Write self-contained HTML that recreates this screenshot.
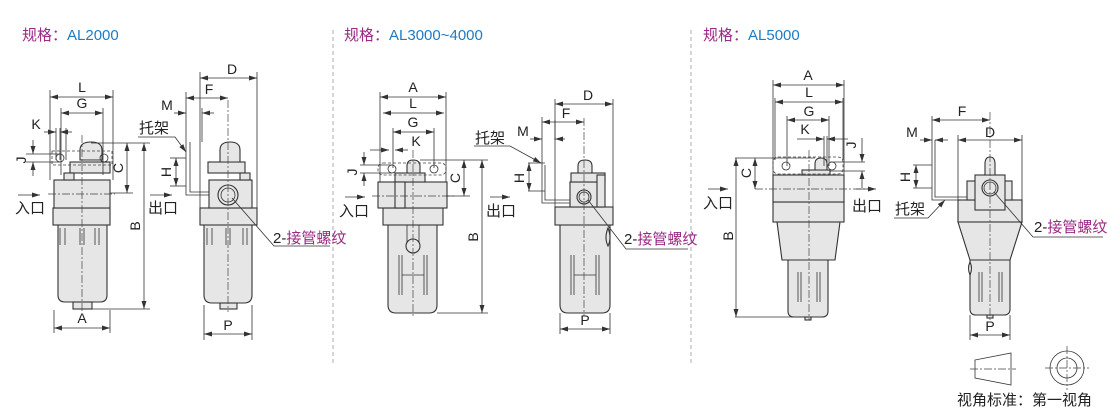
<!DOCTYPE html>
<html><head><meta charset="utf-8"><style>
html,body{margin:0;padding:0;background:#fff;width:1110px;height:410px;overflow:hidden}
svg{display:block}
text{font-family:"Liberation Sans","Noto Sans CJK SC",sans-serif;fill:#222}
.t{font-size:15px}
.d{font-size:14px}
.p{fill:#e6e6e6;stroke:#333;stroke-width:1.1}
.l{stroke:#333;stroke-width:0.8;fill:none}
.c{stroke:#444;stroke-width:0.7;stroke-dasharray:8 2 2 2;fill:none}
.h{stroke:#444;stroke-width:0.8;stroke-dasharray:3 2;fill:none}
.a{stroke:#333;stroke-width:0.8;fill:none;marker-start:url(#ms);marker-end:url(#me)}
.sep{stroke:#bbb;stroke-width:1.2;stroke-dasharray:4 3}
</style></head><body>
<svg width="1110" height="410" viewBox="0 0 1110 410" xmlns="http://www.w3.org/2000/svg">
<defs>
<marker id="me" markerWidth="8" markerHeight="6" refX="8" refY="3" orient="auto" markerUnits="userSpaceOnUse"><path d="M0,0.5 L8,3 L0,5.5z" fill="#333"/></marker>
<marker id="ms" markerWidth="8" markerHeight="6" refX="0" refY="3" orient="auto" markerUnits="userSpaceOnUse"><path d="M8,0.5 L0,3 L8,5.5z" fill="#333"/></marker>
</defs>
<line class="sep" x1="333" y1="30" x2="333" y2="365"/>
<line class="sep" x1="691" y1="30" x2="691" y2="365"/>
<text x="22" y="40" class="t"><tspan style="fill:#9b2a85">规格：</tspan><tspan style="fill:#1e7bc4">AL2000</tspan></text>
<text x="344" y="40" class="t"><tspan style="fill:#9b2a85">规格：</tspan><tspan style="fill:#1e7bc4">AL3000~4000</tspan></text>
<text x="703" y="40" class="t"><tspan style="fill:#9b2a85">规格：</tspan><tspan style="fill:#1e7bc4">AL5000</tspan></text>

<!-- ===== AL2000 front ===== -->
<path class="p" d="M58,225 H107 V295 Q107,302 100,302 H65 Q58,302 58,295Z"/>
<rect class="p" x="73" y="302" width="19" height="7"/>
<rect class="p" x="53" y="208" width="57" height="17"/>
<rect class="p" x="54" y="180" width="56" height="28"/>
<rect class="p" x="70" y="162" width="40" height="11"/>
<path class="p" d="M80,160 V150 Q80,142 91,142 Q102,142 102,150 V160Z"/>
<rect class="p" x="64" y="173" width="10" height="7"/>
<g class="l"><line x1="60" y1="228" x2="60" y2="245"/><line x1="65" y1="228" x2="65" y2="245"/><line x1="80" y1="228" x2="80" y2="245"/><line x1="84" y1="228" x2="84" y2="245"/><line x1="95" y1="228" x2="95" y2="245"/><line x1="99" y1="228" x2="99" y2="245"/></g>
<rect class="h" x="52" y="151" width="60" height="14"/>
<circle cx="60" cy="158" r="4" class="l"/><circle cx="104" cy="158" r="4" class="l"/>
<line class="c" x1="82" y1="135" x2="82" y2="312"/>
<line class="c" x1="48" y1="194" x2="115" y2="194"/>
<g class="l"><line x1="50" y1="90" x2="50" y2="180"/><line x1="113" y1="90" x2="113" y2="180"/><line x1="61" y1="108" x2="61" y2="175"/><line x1="103" y1="108" x2="103" y2="175"/><line x1="54" y1="310" x2="54" y2="333"/><line x1="110" y1="310" x2="110" y2="333"/><line x1="91" y1="143" x2="150" y2="143"/><line x1="92" y1="309" x2="150" y2="309"/><line x1="110" y1="193" x2="133" y2="193"/><line x1="26" y1="154" x2="60" y2="154"/><line x1="26" y1="162" x2="60" y2="162"/><line x1="56" y1="128" x2="56" y2="160"/><line x1="60" y1="128" x2="60" y2="160"/><line x1="66" y1="128" x2="66" y2="160"/></g>
<line class="a" x1="50" y1="97" x2="113" y2="97"/><text x="82" y="92" class="d" text-anchor="middle">L</text>
<line class="a" x1="61" y1="113" x2="103" y2="113"/><text x="82" y="108" class="d" text-anchor="middle">G</text>
<line class="l" x1="44" y1="132" x2="56" y2="132" style="marker-end:url(#me)"/><line class="l" x1="72" y1="132" x2="60" y2="132" style="marker-end:url(#me)"/><text x="36" y="129" class="d" text-anchor="middle">K</text>
<line class="l" x1="33" y1="140" x2="33" y2="154" style="marker-end:url(#me)"/><line class="l" x1="33" y1="176" x2="33" y2="162" style="marker-end:url(#me)"/><text x="24" y="158" class="d" text-anchor="middle" transform="rotate(-90 26 158)">J</text>
<line class="a" x1="127" y1="143" x2="127" y2="193"/><text x="123" y="168" class="d" text-anchor="middle" transform="rotate(-90 123 168)">C</text>
<line class="a" x1="144" y1="143" x2="144" y2="309"/><text x="140" y="226" class="d" text-anchor="middle" transform="rotate(-90 140 226)">B</text>
<line class="a" x1="54" y1="328" x2="110" y2="328"/><text x="82" y="323" class="d" text-anchor="middle">A</text>
<text x="15" y="213" class="t">入口</text><line class="l" x1="18" y1="195" x2="40" y2="195" style="marker-end:url(#me)"/>
<text x="148" y="213" class="t">出口</text><line class="l" x1="150" y1="195" x2="172" y2="195" style="marker-end:url(#me)"/>

<!-- AL2000 side -->
<path class="p" d="M204,225 H252 V295 Q252,303 244,303 H212 Q204,303 204,295Z"/>
<rect class="p" x="220" y="303" width="17" height="6"/>
<rect class="p" x="200" y="208" width="57" height="17"/>
<rect class="p" x="209" y="180" width="43" height="28"/>
<rect class="p" x="208" y="162" width="37" height="11"/>
<rect class="p" x="240" y="173" width="10" height="7"/>
<path class="p" d="M220,162 V150 Q220,142 230,142 Q240,142 240,150 V162Z"/>
<circle cx="228" cy="195" r="10" class="p"/><circle cx="228" cy="195" r="7" class="l"/>
<g class="l"><line x1="207" y1="228" x2="207" y2="245"/><line x1="212" y1="228" x2="212" y2="245"/><line x1="226" y1="228" x2="226" y2="245"/><line x1="230" y1="228" x2="230" y2="245"/><line x1="243" y1="228" x2="243" y2="245"/><line x1="247" y1="228" x2="247" y2="245"/></g>
<path class="l" d="M186,142 V195 H209"/><path class="l" d="M190,142 V192 H209"/>
<line class="c" x1="228" y1="100" x2="228" y2="312"/>
<g class="l"><line x1="200" y1="72" x2="200" y2="208"/><line x1="257" y1="72" x2="257" y2="208"/><line x1="186" y1="92" x2="186" y2="142"/><line x1="202" y1="108" x2="202" y2="142"/><line x1="204" y1="305" x2="204" y2="340"/><line x1="252" y1="305" x2="252" y2="340"/><line x1="170" y1="158" x2="186" y2="158"/><line x1="170" y1="186" x2="186" y2="186"/></g>
<line class="a" x1="200" y1="78" x2="257" y2="78"/><text x="232" y="74" class="d" text-anchor="middle">D</text>
<line class="a" x1="186" y1="98" x2="228" y2="98"/><text x="209" y="94" class="d" text-anchor="middle">F</text>
<line class="l" x1="174" y1="113" x2="186" y2="113" style="marker-end:url(#me)"/><line class="l" x1="214" y1="113" x2="202" y2="113" style="marker-end:url(#me)"/><text x="167" y="110" class="d" text-anchor="middle">M</text>
<line class="a" x1="176" y1="158" x2="176" y2="186"/><text x="171" y="172" class="d" text-anchor="middle" transform="rotate(-90 171 172)">H</text>
<text x="139" y="133" class="t">托架</text><path class="l" d="M138,137 H175 L186,152" style="marker-end:url(#me)"/>
<line class="a" x1="204" y1="334" x2="252" y2="334"/><text x="228" y="330" class="d" text-anchor="middle">P</text>
<path class="l" d="M232,198 L274,246 H330"/>
<text x="273" y="243" class="t">2-<tspan style="fill:#9b2a85">接管螺纹</tspan></text>

<!-- ===== AL3000 front ===== -->
<path class="p" d="M388,225 H437 V305 Q437,313 429,313 H396 Q388,313 388,305Z"/>
<rect class="p" x="383" y="208" width="60" height="17"/>
<rect class="p" x="378" y="182" width="69" height="26"/>
<rect class="p" x="395" y="173" width="30" height="9"/>
<path class="p" d="M407,173 V166 Q407,160 413,160 Q420,160 420,166 V173Z"/>
<rect class="p" x="395" y="182" width="10" height="26"/>
<rect class="l" x="407" y="225" width="12" height="18"/><circle cx="413" cy="246" r="7" class="p"/>
<g class="l"><line x1="399" y1="255" x2="399" y2="295"/><line x1="402" y1="255" x2="402" y2="295"/><line x1="424" y1="255" x2="424" y2="295"/><line x1="427" y1="255" x2="427" y2="295"/><line x1="402" y1="275" x2="424" y2="275"/></g>
<rect class="h" x="378" y="163" width="68" height="12" rx="5"/>
<circle cx="392" cy="169" r="4" class="l"/><circle cx="434" cy="169" r="4" class="l"/>
<line class="c" x1="413" y1="150" x2="413" y2="316"/>
<line class="c" x1="372" y1="196" x2="455" y2="196"/>
<g class="l"><line x1="380" y1="92" x2="380" y2="182"/><line x1="446" y1="92" x2="446" y2="182"/><line x1="393" y1="128" x2="393" y2="168"/><line x1="434" y1="128" x2="434" y2="168"/><line x1="420" y1="160" x2="488" y2="160"/><line x1="437" y1="313" x2="488" y2="313"/><line x1="446" y1="196" x2="470" y2="196"/><line x1="360" y1="165" x2="392" y2="165"/><line x1="360" y1="173" x2="392" y2="173"/></g>
<line class="a" x1="380" y1="97" x2="446" y2="97"/><text x="413" y="92" class="d" text-anchor="middle">A</text>
<line class="a" x1="383" y1="113" x2="444" y2="113"/><text x="413" y="108" class="d" text-anchor="middle">L</text>
<line class="a" x1="393" y1="132" x2="434" y2="132"/><text x="413" y="127" class="d" text-anchor="middle">G</text>
<line class="l" x1="370" y1="150" x2="389" y2="150" style="marker-end:url(#me)"/><line class="l" x1="408" y1="150" x2="395" y2="150" style="marker-end:url(#me)"/><text x="416" y="146" class="d" text-anchor="middle">K</text>
<line class="l" x1="364" y1="152" x2="364" y2="165" style="marker-end:url(#me)"/><line class="l" x1="364" y1="186" x2="364" y2="173" style="marker-end:url(#me)"/><text x="357" y="172" class="d" text-anchor="middle" transform="rotate(-90 357 172)">J</text>
<line class="a" x1="464" y1="160" x2="464" y2="196"/><text x="460" y="178" class="d" text-anchor="middle" transform="rotate(-90 460 178)">C</text>
<line class="a" x1="482" y1="160" x2="482" y2="313"/><text x="478" y="237" class="d" text-anchor="middle" transform="rotate(-90 478 237)">B</text>
<text x="339" y="216" class="t">入口</text><line class="l" x1="345" y1="197" x2="365" y2="197" style="marker-end:url(#me)"/>
<text x="486" y="216" class="t">出口</text><line class="l" x1="490" y1="197" x2="510" y2="197" style="marker-end:url(#me)"/>

<!-- AL3000 side -->
<path class="p" d="M560,225 H610 V305 Q610,313 602,313 H568 Q560,313 560,305Z"/>
<rect class="p" x="555" y="207" width="58" height="18"/>
<rect class="p" x="570" y="182" width="32" height="25"/>
<rect class="p" x="571" y="173" width="34" height="9"/>
<rect class="p" x="597" y="175" width="8" height="32"/>
<path class="p" d="M578,173 V166 Q578,160 585,160 Q592,160 592,166 V173Z"/>
<circle cx="584" cy="197" r="7" class="p"/><circle cx="584" cy="197" r="5" class="l"/>
<path class="p" d="M608,228 Q612,238 608,246 Q604,238 608,228Z"/>
<g class="l"><line x1="571" y1="255" x2="571" y2="295"/><line x1="574" y1="255" x2="574" y2="295"/><line x1="596" y1="255" x2="596" y2="295"/><line x1="599" y1="255" x2="599" y2="295"/><line x1="574" y1="275" x2="596" y2="275"/></g>
<path class="l" d="M542,138 V203 H570"/><path class="l" d="M545,165 V200 H570"/>
<line class="c" x1="584" y1="118" x2="584" y2="316"/>
<g class="l"><line x1="555" y1="99" x2="555" y2="207"/><line x1="613" y1="99" x2="613" y2="207"/><line x1="542" y1="117" x2="542" y2="138"/><line x1="555" y1="120" x2="555" y2="140"/><line x1="560" y1="313" x2="560" y2="334"/><line x1="610" y1="313" x2="610" y2="334"/><line x1="528" y1="163" x2="545" y2="163"/><line x1="528" y1="191" x2="545" y2="191"/></g>
<line class="a" x1="555" y1="104" x2="613" y2="104"/><text x="588" y="100" class="d" text-anchor="middle">D</text>
<line class="a" x1="542" y1="122" x2="584" y2="122"/><text x="566" y="118" class="d" text-anchor="middle">F</text>
<line class="l" x1="530" y1="139" x2="542" y2="139" style="marker-end:url(#me)"/><line class="l" x1="565" y1="139" x2="555" y2="139" style="marker-end:url(#me)"/><text x="523" y="136" class="d" text-anchor="middle">M</text>
<line class="a" x1="529" y1="163" x2="529" y2="191"/><text x="524" y="178" class="d" text-anchor="middle" transform="rotate(-90 524 178)">H</text>
<text x="475" y="143" class="t">托架</text><path class="l" d="M474,146 H510 L541,163" style="marker-end:url(#me)"/>
<line class="a" x1="560" y1="329" x2="610" y2="329"/><text x="585" y="325" class="d" text-anchor="middle">P</text>
<path class="l" d="M588,200 L626,249 H688"/>
<text x="624" y="244" class="t">2-<tspan style="fill:#9b2a85">接管螺纹</tspan></text>

<!-- ===== AL5000 front ===== -->
<path class="p" d="M788,260 H828 V311 Q828,317 822,317 H794 Q788,317 788,311Z"/>
<rect class="p" x="805" y="317" width="6" height="3"/>
<path class="p" d="M777,222 H840 L835,260 H782Z"/>
<rect class="p" x="773" y="202" width="71" height="20"/>
<rect class="p" x="773" y="175" width="71" height="27"/>
<rect class="p" x="802" y="170" width="28" height="5"/>
<path class="p" d="M815,170 V164 Q815,158 821,158 Q827,158 827,164 V170Z"/>
<g class="l"><line x1="798" y1="272" x2="798" y2="302"/><line x1="801" y1="272" x2="801" y2="302"/><line x1="817" y1="272" x2="817" y2="302"/><line x1="820" y1="272" x2="820" y2="302"/></g>
<rect class="h" x="773" y="157" width="70" height="17" rx="5"/>
<circle cx="786" cy="166" r="4" class="l"/><circle cx="832" cy="166" r="4" class="l"/>
<line class="c" x1="809" y1="150" x2="809" y2="320"/>
<line class="c" x1="755" y1="189" x2="870" y2="189"/>
<g class="l"><line x1="773" y1="80" x2="773" y2="175"/><line x1="844" y1="80" x2="844" y2="175"/><line x1="775" y1="98" x2="775" y2="160"/><line x1="843" y1="98" x2="843" y2="160"/><line x1="787" y1="116" x2="787" y2="166"/><line x1="829" y1="116" x2="829" y2="166"/><line x1="735" y1="158" x2="815" y2="158"/><line x1="735" y1="317" x2="808" y2="317"/><line x1="830" y1="162" x2="865" y2="162"/><line x1="830" y1="171" x2="865" y2="171"/><line x1="824" y1="136" x2="824" y2="166"/><line x1="827" y1="136" x2="827" y2="166"/></g>
<line class="a" x1="773" y1="85" x2="844" y2="85"/><text x="808" y="80" class="d" text-anchor="middle">A</text>
<line class="a" x1="775" y1="102" x2="843" y2="102"/><text x="809" y="97" class="d" text-anchor="middle">L</text>
<line class="a" x1="787" y1="120" x2="829" y2="120"/><text x="809" y="116" class="d" text-anchor="middle">G</text>
<line class="l" x1="797" y1="139" x2="824" y2="139" style="marker-end:url(#me)"/><line class="l" x1="848" y1="139" x2="827" y2="139" style="marker-end:url(#me)"/><text x="805" y="134" class="d" text-anchor="middle">K</text>
<line class="l" x1="862" y1="138" x2="862" y2="162" style="marker-end:url(#me)"/><line class="l" x1="862" y1="188" x2="862" y2="171" style="marker-end:url(#me)"/><text x="856" y="145" class="d" text-anchor="middle" transform="rotate(-90 856 145)">J</text>
<line class="a" x1="755" y1="158" x2="755" y2="189"/><text x="751" y="173" class="d" text-anchor="middle" transform="rotate(-90 751 173)">C</text>
<line class="a" x1="736" y1="158" x2="736" y2="317"/><text x="733" y="236" class="d" text-anchor="middle" transform="rotate(-90 733 236)">B</text>
<text x="703" y="208" class="t">入口</text><line class="l" x1="708" y1="189" x2="728" y2="189" style="marker-end:url(#me)"/>
<text x="852" y="211" class="t">出口</text><line class="l" x1="856" y1="189" x2="876" y2="189" style="marker-end:url(#me)"/>

<!-- AL5000 side -->
<path class="p" d="M970,260 H1010 V309 Q1010,315 1004,315 H976 Q970,315 970,309Z"/>
<rect class="p" x="987" y="315" width="6" height="3"/>
<path class="p" d="M958,222 H1022 L1010,260 H970Z"/>
<rect class="p" x="958" y="200" width="64" height="22"/>
<rect class="p" x="967" y="181" width="45" height="19"/>
<rect class="p" x="975" y="175" width="30" height="35"/>
<path class="p" d="M985,175 V164 Q985,157 990,157 Q995,157 995,164 V175Z"/>
<circle cx="990" cy="188" r="8" class="p"/><circle cx="990" cy="188" r="6" class="l"/>
<path class="p" d="M970,262 Q973,268 970,275 Q967,268 970,262Z"/>
<g class="l"><line x1="979" y1="272" x2="979" y2="302"/><line x1="982" y1="272" x2="982" y2="302"/><line x1="999" y1="272" x2="999" y2="302"/><line x1="1002" y1="272" x2="1002" y2="302"/></g>
<path class="l" d="M932,116 V200 H967"/><path class="l" d="M935,140 V197 H967"/>
<line class="c" x1="990" y1="112" x2="990" y2="320"/>
<g class="l"><line x1="958" y1="135" x2="958" y2="200"/><line x1="1022" y1="135" x2="1022" y2="200"/><line x1="970" y1="315" x2="970" y2="340"/><line x1="1010" y1="315" x2="1010" y2="340"/><line x1="913" y1="165" x2="932" y2="165"/><line x1="913" y1="188" x2="932" y2="188"/></g>
<line class="a" x1="932" y1="120" x2="990" y2="120"/><text x="962" y="116" class="d" text-anchor="middle">F</text>
<line class="l" x1="920" y1="140" x2="932" y2="140" style="marker-end:url(#me)"/><line class="l" x1="948" y1="140" x2="935" y2="140" style="marker-end:url(#me)"/><text x="912" y="137" class="d" text-anchor="middle">M</text>
<line class="a" x1="958" y1="140" x2="1022" y2="140"/><text x="990" y="137" class="d" text-anchor="middle">D</text>
<line class="a" x1="916" y1="165" x2="916" y2="188"/><text x="910" y="177" class="d" text-anchor="middle" transform="rotate(-90 910 177)">H</text>
<text x="895" y="214" class="t">托架</text><path class="l" d="M894,218 H928 L945,200" style="marker-end:url(#me)"/>
<line class="a" x1="970" y1="335" x2="1010" y2="335"/><text x="990" y="331" class="d" text-anchor="middle">P</text>
<path class="l" d="M994,192 L1033,237 H1103"/>
<text x="1034" y="232" class="t">2-<tspan style="fill:#9b2a85">接管螺纹</tspan></text>

<!-- projection legend -->
<path class="l" d="M975,360 L1011,353 V385 L975,378Z"/>
<line class="c" x1="970" y1="369" x2="1016" y2="369"/>
<circle cx="1067" cy="368" r="17" class="l"/><circle cx="1067" cy="368" r="10" class="l"/>
<line class="c" x1="1045" y1="368" x2="1089" y2="368"/><line class="c" x1="1067" y1="346" x2="1067" y2="390"/>
<text x="957" y="405" class="t">视角标准：第一视角</text>
</svg>
</body></html>
